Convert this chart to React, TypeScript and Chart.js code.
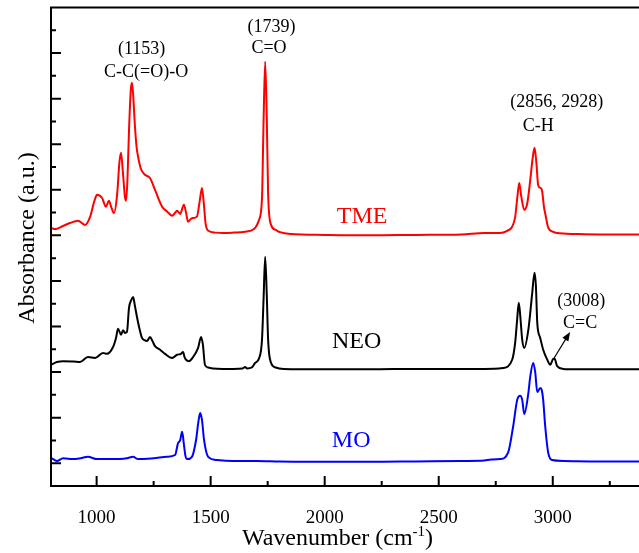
import React, { useEffect, useRef } from 'react';
import { Chart, registerables } from 'chart.js';

Chart.register(...registerables);

// ---------- DATA ----------
const tmeWavenumber = [800, 820, 850, 883, 918, 949, 971, 990, 1002, 1024, 1041, 1054, 1064, 1076, 1090, 1100, 1107, 1115, 1124, 1129, 1135, 1142, 1150, 1155, 1160, 1168, 1175, 1182, 1195, 1212, 1234, 1256, 1287, 1310, 1331, 1345, 1353, 1366, 1383, 1392, 1401, 1413, 1423, 1440, 1452, 1462, 1470, 1478, 1490, 1520, 1554, 1600, 1650, 1690, 1712, 1725, 1732, 1739, 1746, 1752, 1765, 1785, 1804, 1850, 2000, 2200, 2400, 2600, 2700, 2769, 2800, 2822, 2835, 2845, 2853, 2862, 2875, 2888, 2901, 2912, 2920, 2928, 2936, 2946, 2953, 2962, 2967, 2980, 3000, 3019, 3100, 3200, 3300, 3400];
const tmeAbsorbance = [5.16, 5.14, 5.2, 5.27, 5.32, 5.23, 5.4, 5.75, 5.89, 5.82, 5.63, 5.76, 5.62, 5.49, 5.9, 6.6, 6.81, 6.4, 5.85, 5.76, 6.2, 7.3, 8.2, 8.35, 8.1, 7.4, 6.95, 6.72, 6.45, 6.33, 6.26, 6.0, 5.63, 5.52, 5.43, 5.5, 5.54, 5.47, 5.67, 5.5, 5.3, 5.36, 5.38, 5.41, 5.75, 6.04, 5.7, 5.25, 5.1, 5.06, 5.05, 5.06, 5.08, 5.14, 5.34, 5.8, 7.5, 8.81, 7.6, 5.9, 5.23, 5.12, 5.07, 5.03, 5.01, 5.0, 5.01, 5.02, 5.05, 5.05, 5.1, 5.19, 5.4, 5.85, 6.15, 5.85, 5.56, 5.7, 6.2, 6.7, 6.92, 6.6, 6.1, 6.04, 5.98, 5.6, 5.48, 5.17, 5.08, 5.05, 5.03, 5.02, 5.02, 5.02];

const neoWavenumber = [800, 826, 853, 900, 927, 962, 993, 1028, 1045, 1072, 1085, 1094, 1107, 1116, 1124, 1133, 1142, 1152, 1160, 1168, 1177, 1188, 1199, 1210, 1221, 1234, 1245, 1256, 1278, 1300, 1331, 1353, 1370, 1379, 1386, 1392, 1405, 1423, 1445, 1458, 1466, 1475, 1490, 1510, 1554, 1600, 1640, 1651, 1660, 1680, 1695, 1712, 1725, 1732, 1739, 1746, 1752, 1765, 1785, 1820, 2000, 2200, 2400, 2600, 2700, 2782, 2822, 2835, 2843, 2851, 2858, 2866, 2875, 2893, 2910, 2920, 2926, 2932, 2945, 2958, 2976, 2989, 3002, 3008, 3019, 3046, 3100, 3200, 3300, 3400];
const neoAbsorbance = [2.16, 2.22, 2.24, 2.23, 2.22, 2.33, 2.31, 2.42, 2.4, 2.55, 2.75, 2.95, 2.82, 2.92, 2.86, 2.88, 3.41, 3.58, 3.65, 3.45, 3.21, 2.95, 2.75, 2.7, 2.68, 2.77, 2.68, 2.57, 2.49, 2.4, 2.31, 2.38, 2.4, 2.44, 2.32, 2.27, 2.24, 2.33, 2.53, 2.77, 2.6, 2.16, 2.1, 2.08, 2.07, 2.07, 2.08, 2.11, 2.08, 2.1, 2.2, 2.3, 2.7, 3.6, 4.53, 3.7, 2.7, 2.2, 2.1, 2.07, 2.06, 2.06, 2.07, 2.07, 2.07, 2.09, 2.27, 2.64, 3.1, 3.52, 3.2, 2.71, 2.53, 2.93, 3.74, 4.18, 3.9, 3.08, 2.75, 2.49, 2.27, 2.16, 2.29, 2.29, 2.13, 2.07, 2.06, 2.06, 2.06, 2.06];

const moWavenumber = [800, 809, 826, 853, 896, 930, 962, 1002, 1060, 1133, 1160, 1182, 1250, 1309, 1344, 1357, 1366, 1375, 1383, 1390, 1397, 1418, 1436, 1446, 1454, 1462, 1471, 1489, 1528, 1600, 1700, 1800, 2000, 2200, 2400, 2600, 2700, 2730, 2769, 2804, 2826, 2844, 2857, 2866, 2875, 2893, 2901, 2914, 2923, 2932, 2945, 2952, 2958, 2967, 2980, 2998, 3050, 3200, 3300, 3400];
const moAbsorbance = [0.11, 0.09, 0.05, 0.11, 0.09, 0.11, 0.14, 0.09, 0.09, 0.11, 0.14, 0.09, 0.11, 0.14, 0.18, 0.44, 0.5, 0.69, 0.4, 0.15, 0.09, 0.14, 0.51, 0.9, 1.1, 0.95, 0.51, 0.14, 0.07, 0.05, 0.05, 0.04, 0.03, 0.03, 0.04, 0.05, 0.06, 0.08, 0.09, 0.23, 0.8, 1.39, 1.48, 1.39, 1.08, 1.54, 1.89, 2.2, 2.0, 1.56, 1.65, 1.6, 1.39, 0.8, 0.23, 0.07, 0.05, 0.04, 0.04, 0.04];

const xMajorTicks = [1000, 1500, 2000, 2500, 3000];
const xMinorTicks = [1250, 1750, 2250, 2750, 3250];
const yMajorTicks = [0, 1, 2, 3, 4, 5, 6, 7, 8, 9];
const yMinorTicks = [0.5, 1.5, 2.5, 3.5, 4.5, 5.5, 6.5, 7.5, 8.5, 9.5];

const seriesNames = ['TME', 'NEO', 'MO'];

// annotation texts with anchor (wavenumber, absorbance) of the text baseline centre
const annotationTexts = ['(1153)', 'C-C(=O)-O', '(1739)', 'C=O', '(2856, 2928)', 'C-H', '(3008)', 'C=C'];
const annotationX = [1197, 1217, 1767, 1756, 3017, 2936, 3125, 3120];
const annotationY = [8.98, 8.48, 9.47, 9.0, 7.82, 7.29, 3.45, 2.97];
const seriesLabelX = [2164, 2140, 2116];
const seriesLabelY = [5.27, 2.53, 0.36];
const arrowFrom = [3006, 2.31];
const arrowTo = [3076, 2.88];

const COLORS = ['rgb(255,0,0)', 'rgb(0,0,0)', 'rgb(0,0,255)'];
const FONT = '"Liberation Serif", "Times New Roman", serif';

const toPoints = (xs: number[], ys: number[]) => xs.map((x, i) => ({ x, y: ys[i] }));

const framePlugin = {
  id: 'frameAndText',
  afterDatasetsDraw(chart: any) {
    const { ctx, chartArea } = chart;
    const xs = chart.scales.x;
    const ys = chart.scales.y;
    const { left, right, top, bottom } = chartArea;
    ctx.save();
    ctx.strokeStyle = '#000';
    ctx.lineWidth = 2;
    ctx.lineCap = 'butt';
    // frame
    ctx.beginPath();
    ctx.moveTo(left, top);
    ctx.lineTo(right, top);
    ctx.moveTo(left, top - 1);
    ctx.lineTo(left, bottom + 1);
    ctx.moveTo(left - 1, bottom);
    ctx.lineTo(right, bottom);
    ctx.moveTo(right, top);
    ctx.lineTo(right, bottom);
    ctx.stroke();
    // ticks (inward)
    ctx.beginPath();
    xMajorTicks.forEach((v) => {
      const p = xs.getPixelForValue(v);
      ctx.moveTo(p, bottom);
      ctx.lineTo(p, bottom - 10);
    });
    xMinorTicks.forEach((v) => {
      const p = xs.getPixelForValue(v);
      ctx.moveTo(p, bottom);
      ctx.lineTo(p, bottom - 5);
    });
    yMajorTicks.forEach((v) => {
      const p = ys.getPixelForValue(v);
      ctx.moveTo(left, p);
      ctx.lineTo(left + 10, p);
    });
    yMinorTicks.forEach((v) => {
      const p = ys.getPixelForValue(v);
      ctx.moveTo(left, p);
      ctx.lineTo(left + 5, p);
    });
    ctx.stroke();

    // annotations
    ctx.textAlign = 'center';
    ctx.textBaseline = 'alphabetic';
    ctx.fillStyle = '#000';
    ctx.font = `18px ${FONT}`;
    annotationTexts.forEach((t, i) => {
      ctx.fillText(t, xs.getPixelForValue(annotationX[i]), ys.getPixelForValue(annotationY[i]));
    });
    ctx.font = `24px ${FONT}`;
    seriesNames.forEach((t, i) => {
      ctx.fillStyle = COLORS[i];
      ctx.fillText(t, xs.getPixelForValue(seriesLabelX[i]), ys.getPixelForValue(seriesLabelY[i]));
    });

    // arrow
    const x1 = xs.getPixelForValue(arrowFrom[0]);
    const y1 = ys.getPixelForValue(arrowFrom[1]);
    const x2 = xs.getPixelForValue(arrowTo[0]);
    const y2 = ys.getPixelForValue(arrowTo[1]);
    const ang = Math.atan2(y2 - y1, x2 - x1);
    ctx.strokeStyle = '#000';
    ctx.fillStyle = '#000';
    ctx.lineWidth = 1.2;
    ctx.beginPath();
    ctx.moveTo(x1, y1);
    ctx.lineTo(x2 - 6 * Math.cos(ang), y2 - 6 * Math.sin(ang));
    ctx.stroke();
    ctx.beginPath();
    ctx.moveTo(x2, y2);
    ctx.lineTo(x2 - 9 * Math.cos(ang) + 3.5 * Math.sin(ang), y2 - 9 * Math.sin(ang) - 3.5 * Math.cos(ang));
    ctx.lineTo(x2 - 9 * Math.cos(ang) - 3.5 * Math.sin(ang), y2 - 9 * Math.sin(ang) + 3.5 * Math.cos(ang));
    ctx.closePath();
    ctx.fill();
    ctx.restore();
  },
  afterDraw(chart: any) {
    const { ctx } = chart;
    ctx.save();
    ctx.fillStyle = '#000';
    // x title with superscript
    const base = 'Wavenumber (cm';
    const sup = '-1';
    const close = ')';
    ctx.font = `24px ${FONT}`;
    const wBase = ctx.measureText(base).width;
    const wClose = ctx.measureText(close).width;
    ctx.font = `15px ${FONT}`;
    const wSup = ctx.measureText(sup).width;
    const total = wBase + wSup + wClose;
    const x0 = 337.5 - total / 2;
    const yb = 545;
    ctx.textAlign = 'left';
    ctx.textBaseline = 'alphabetic';
    ctx.font = `24px ${FONT}`;
    ctx.fillText(base, x0, yb);
    ctx.font = `15px ${FONT}`;
    ctx.fillText(sup, x0 + wBase, yb - 9);
    ctx.font = `24px ${FONT}`;
    ctx.fillText(close, x0 + wBase + wSup, yb);
    // y title
    ctx.translate(34, 238);
    ctx.rotate(-Math.PI / 2);
    ctx.textAlign = 'center';
    ctx.fillText('Absorbance (a.u.)', 0, 0);
    ctx.restore();
  },
};

export default function App() {
  const canvasRef = useRef<HTMLCanvasElement | null>(null);

  useEffect(() => {
    const canvas = canvasRef.current;
    if (!canvas) return;
    const chart = new Chart(canvas, {
      type: 'line',
      data: {
        datasets: [
          { label: seriesNames[0], data: toPoints(tmeWavenumber, tmeAbsorbance), borderColor: COLORS[0] },
          { label: seriesNames[1], data: toPoints(neoWavenumber, neoAbsorbance), borderColor: COLORS[1] },
          { label: seriesNames[2], data: toPoints(moWavenumber, moAbsorbance), borderColor: COLORS[2] },
        ].map((d) => ({
          ...d,
          borderWidth: 2,
          pointRadius: 0,
          fill: false,
          cubicInterpolationMode: 'monotone' as const,
        })),
      },
      options: {
        responsive: false,
        animation: false,
        devicePixelRatio: 1,
        layout: { padding: { left: 51, top: 7.5, right: 56, bottom: 0 } },
        plugins: { legend: { display: false }, tooltip: { enabled: false } },
        scales: {
          x: {
            type: 'linear',
            min: 800,
            max: 3400,
            afterBuildTicks: (s: any) => {
              s.ticks = xMajorTicks.map((v) => ({ value: v }));
            },
            afterFit: (s: any) => {
              s.height = 67;
            },
            grid: { display: false, drawTicks: false },
            border: { display: false },
            ticks: {
              color: '#000',
              font: { family: FONT, size: 19 },
              padding: 21,
              maxRotation: 0,
              autoSkip: false,
              callback: (v: any) => String(v),
            },
          },
          y: { type: 'linear', display: false, min: -0.5, max: 10 },
        },
      },
      plugins: [framePlugin],
    });
    return () => chart.destroy();
  }, []);

  return (
    <div style={{ position: 'fixed', left: 0, top: 0, width: 639, height: 553, overflow: 'hidden', background: '#fff' }}>
      <canvas ref={canvasRef} width={700} height={553} style={{ display: 'block' }} />
    </div>
  );
}
